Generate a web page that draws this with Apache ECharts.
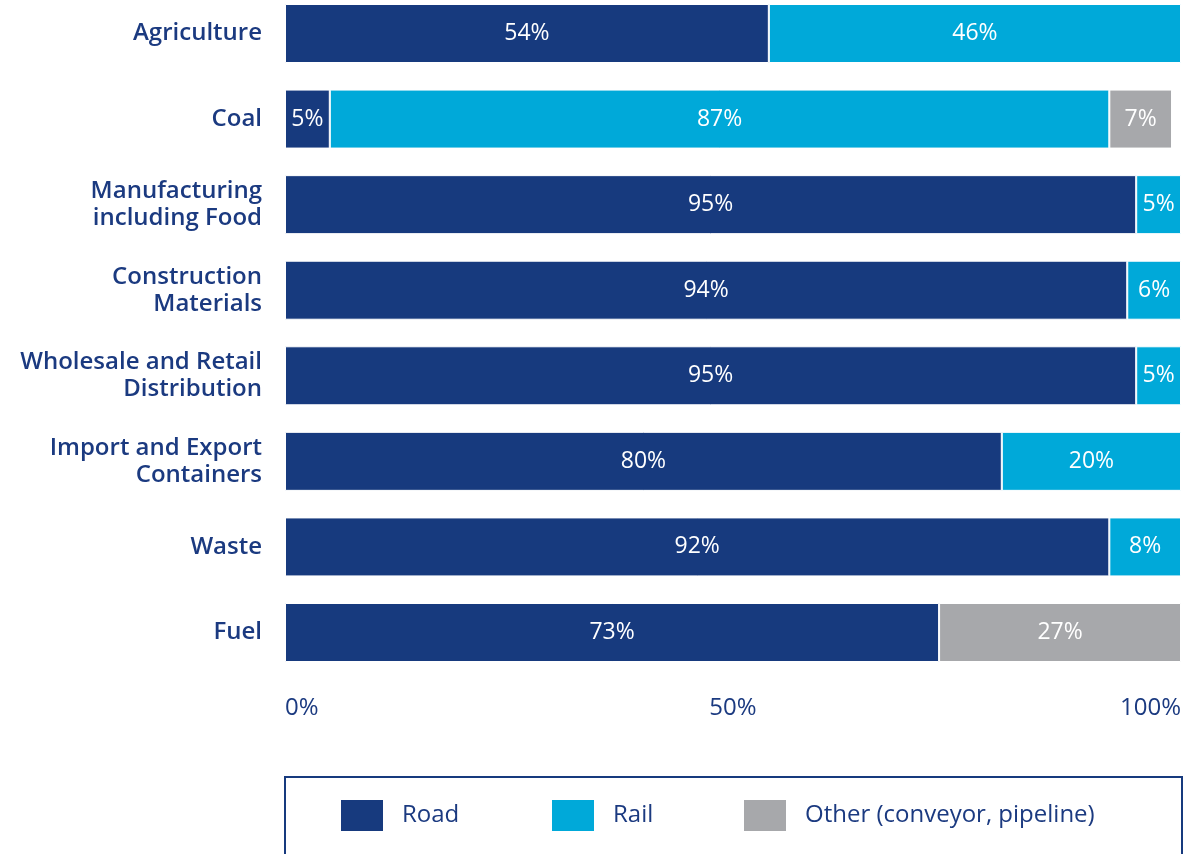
<!DOCTYPE html>
<html>
<head>
<meta charset="utf-8">
<script src="https://cdn.jsdelivr.net/npm/echarts@6/dist/echarts.min.js"></script>
<style>html,body{margin:0;padding:0;background:#fff;}#c{width:1192px;height:854px;}</style>
</head>
<body>
<div id="c"></div>
<script>
const categories = ['Agriculture','Coal','Manufacturing\nincluding Food','Construction\nMaterials','Wholesale and Retail\nDistribution','Import and Export\nContainers','Waste','Fuel'];
const road  = [54, 5, 95, 94, 95, 80, 92, 73];
const rail  = [46, 87, 5, 6, 5, 20, 8, null];
const other = [null, 7, null, null, null, null, null, 27];
const seriesNames = ['Road','Rail','Other (conveyor, pipeline)'];
const tickValues = [0, 50, 100];

const NAVY = '#173A7E', RAIL = '#00A9D9', GRAY = '#A7A8AB', TEXT = '#1B3A80';
const FONT = '"Open Sans", sans-serif';

const chart = echarts.init(document.getElementById('c'), null, {renderer:'canvas'});
function mk(name, data, color){
  return {
    name, type:'bar', stack:'s', data, barWidth:59,
    itemStyle:{color, borderColor:'#ffffff', borderWidth:1},
    label:{show:true, position:'inside', color:'#fff', fontFamily:FONT, fontSize:23,
      formatter: p => p.value == null ? '' : p.value + '%'},
    emphasis:{disabled:true}
  };
}
function lg(name, left){
  return {left, top:798, itemWidth:44, itemHeight:33, padding:0, icon:'rect', data:[name],
    selectedMode:false,
    textStyle:{color:TEXT, fontFamily:FONT, fontSize:24, padding:[6,0,0,13]}};
}
chart.setOption({
  animation:false,
  backgroundColor:'#fff',
  grid:{left:285, right:11, top:33.5, height:599, containLabel:false},
  xAxis:{type:'value', min:0, max:100, interval:50, position:'bottom',
    splitLine:{show:false}, axisLine:{show:false}, axisTick:{show:false},
    axisLabel:{margin:64, color:TEXT, fontFamily:FONT, fontWeight:500, fontSize:24,
      formatter: v => tickValues.includes(v) ? v + '%' : '',
      alignMinLabel:'left', alignMaxLabel:'right'}},
  yAxis:{type:'category', inverse:true, data:categories, boundaryGap:false,
    axisLine:{show:false}, axisTick:{show:false}, splitLine:{show:false},
    axisLabel:{margin:23, color:TEXT, fontFamily:FONT, fontWeight:600, fontSize:24, lineHeight:27, align:'right'}},
  legend:[lg(seriesNames[0],339), lg(seriesNames[1],550), lg(seriesNames[2],742)],
  graphic:[{type:'rect', shape:{x:285, y:777, width:897, height:120},
    style:{fill:'none', stroke:NAVY, lineWidth:2}, silent:true}],
  series:[mk(seriesNames[0], road, NAVY), mk(seriesNames[1], rail, RAIL), mk(seriesNames[2], other, GRAY)]
});
</script>
</body>
</html>
